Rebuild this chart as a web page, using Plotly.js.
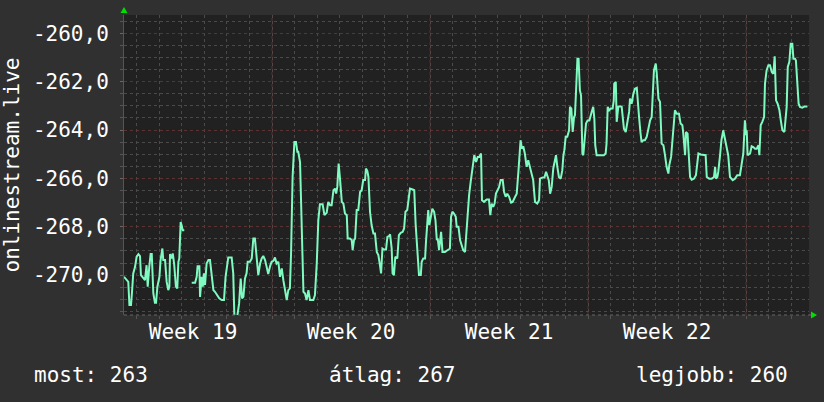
<!DOCTYPE html>
<html>
<head>
<meta charset="utf-8">
<script src="https://cdn.plot.ly/plotly-3.0.1.min.js"></script>
<style>
html,body{margin:0;padding:0;background:#303030;}
#chart{width:824px;height:402px;}
</style>
</head>
<body>
<div id="chart"></div>
<script>
// time in days from the left edge of the chart
const day = [
 0.00,0.15,0.19,0.24,0.31,0.35,0.41,0.49,0.56,0.64,0.71,0.75,0.86,0.93,1.00,1.05,1.12,1.18,1.23,1.30,
 1.37,1.42,1.48,1.57,1.62,1.70,1.74,1.82,1.89,1.96,2.01,2.04,2.11,2.16,2.22,2.26,2.30,2.36,2.41,2.45,
 2.51,2.55,2.60,2.67,2.83,
 3.00,3.15,3.22,3.26,3.34,3.37,3.44,3.49,3.54,3.59,3.66,3.74,3.81,3.88,3.96,4.03,4.11,4.22,4.33,4.43,
 4.50,4.55,4.62,4.77,4.84,4.89,5.02,5.10,5.17,5.23,5.29,5.36,5.43,5.48,5.58,5.66,5.73,5.80,5.88,5.95,
 6.03,6.10,6.17,6.25,6.32,6.39,6.47,6.54,6.62,6.69,6.76,6.84,6.91,6.99,7.06,7.13,7.21,7.28,7.35,7.40,
 7.47,7.55,7.62,7.68,7.72,7.80,7.87,7.95,8.02,8.09,8.17,8.24,8.39,8.46,8.54,8.61,8.68,8.80,8.88,8.98,
 9.05,9.13,9.20,9.28,9.35,9.40,9.45,9.51,9.57,9.65,9.72,9.79,9.87,9.91,10.01,10.09,10.13,10.19,10.24,10.31,
 10.38,10.46,10.53,10.60,10.68,10.72,10.78,10.83,10.90,10.97,11.05,11.12,11.20,11.27,11.34,11.39,11.45,11.52,11.61,11.67,
 11.74,11.79,11.86,11.90,11.96,12.02,12.11,12.18,12.26,12.35,12.41,12.47,12.55,12.60,12.67,12.79,12.86,12.92,12.97,13.01,
 13.07,13.15,13.19,13.26,13.34,13.38,13.44,13.48,13.53,13.59,13.66,13.74,13.80,13.86,13.90,13.96,14.00,14.05,14.11,14.22,
 14.33,14.44,14.49,14.55,14.62,14.70,14.74,14.82,14.89,14.96,15.03,15.11,15.18,15.23,15.29,15.36,15.44,15.52,15.60,15.67,
 15.74,15.82,15.86,15.95,16.07,16.17,16.23,16.29,16.36,16.42,16.48,16.56,16.62,16.69,16.78,16.84,16.91,16.98,17.06,17.15,
 17.22,17.33,17.40,17.48,17.52,17.57,17.63,17.69,17.76,17.84,17.91,17.99,18.06,18.13,18.21,18.31,18.39,18.43,18.55,18.63,
 18.70,18.76,18.82,18.88,18.95,19.02,19.10,19.14,19.20,19.27,19.35,19.42,19.47,19.51,19.57,19.64,19.72,19.76,19.82,19.88,
 19.94,19.98,20.03,20.09,20.14,20.20,20.25,20.31,20.35,20.41,20.47,20.54,20.62,20.72,20.79,20.84,20.88,20.94,21.09,21.26,
 21.34,21.38,21.43,21.50,21.58,21.65,21.70,21.72,21.79,21.83,21.90,21.98,22.05,22.09,22.15,22.23,22.30,22.38,22.42,22.49,
 22.57,22.64,22.72,22.76,22.82,22.88,22.93,23.01,23.08,23.16,23.23,23.31,23.38,23.42,23.48,23.56,23.60,23.68,23.75,23.82,
 23.90,23.97,24.04,24.12,24.16,24.24,24.29,24.34,24.41,24.49,24.59,24.66,24.74,24.78,24.86,24.90,24.97,25.02,25.08,25.15,
 25.25,25.34,25.40,25.45,25.55,25.67,25.77,25.82,25.93,26.04,26.14,26.19,26.23,26.29,26.33,26.41,26.47,26.55,26.63,26.70,
 26.77,26.85,26.97,27.07,27.17,27.29,27.37,27.44,27.51,27.56,27.59,27.63,27.74,27.81,27.88,27.96,28.03,28.11,28.15,28.21,
 28.28,28.36,28.40,28.47,28.55,28.62,28.70,28.77,28.83,28.89,28.96,29.04,29.10,29.17,29.26,29.32,29.36,29.41,29.48,29.54,
 29.61,29.66,29.73,29.77,29.85,29.89,29.95,30.05,30.17,30.28
];
const value = [
 -270.07,-270.28,-270.28,-271.24,-271.24,-270.76,-269.93,-269.66,-269.24,-269.13,-269.21,-270.00,-270.14,-270.21,-269.59,-270.48,-269.66,-269.13,-269.13,-270.76,
 -271.14,-271.14,-270.48,-270.07,-269.38,-268.90,-269.38,-269.38,-270.28,-270.62,-270.48,-269.13,-269.31,-269.10,-269.52,-270.28,-270.48,-270.55,-269.45,-269.31,
 -267.80,-267.93,-268.14,-268.14,null,
 -270.32,-270.32,-270.07,-269.63,-269.63,-270.90,-270.07,-270.48,-269.93,-270.41,-269.52,-269.38,-269.38,-270.07,-270.62,-270.69,-270.79,-270.96,-271.03,-271.03,
 -270.07,-269.66,-269.27,-269.27,-269.93,-271.70,-271.70,-271.17,-270.14,-270.96,-270.90,-270.14,-269.93,-269.45,-269.45,-269.31,-268.49,-268.49,-269.24,-270.00,
 -269.52,-269.31,-269.21,-269.38,-269.66,-269.96,-269.63,-269.45,-269.41,-269.27,-269.52,-269.45,-270.07,-269.72,-270.21,-270.55,-271.03,-270.62,-270.55,-269.17,
 -265.94,-264.49,-264.49,-264.90,-264.90,-265.32,-268.00,-270.69,-270.76,-271.03,-270.62,-271.03,-271.03,-270.83,-269.52,-267.73,-267.07,-267.07,-267.52,-267.42,
 -266.97,-267.11,-267.11,-266.49,-266.42,-266.63,-266.35,-265.39,-266.01,-266.97,-267.04,-267.45,-267.52,-268.49,-268.49,-268.55,-268.97,-268.55,-268.49,-267.31,
 -267.31,-266.56,-266.49,-266.07,-266.07,-265.59,-265.69,-265.94,-267.38,-267.93,-268.28,-268.28,-269.04,-269.17,-269.59,-269.93,-268.90,-268.94,-268.94,-268.42,
 -268.39,-268.31,-268.90,-269.93,-270.00,-269.24,-269.31,-268.35,-268.25,-268.21,-268.07,-267.38,-267.31,-266.83,-266.42,-266.46,-266.49,-267.87,-268.55,-269.45,
 -270.00,-270.00,-269.45,-269.31,-269.31,-268.62,-267.45,-267.31,-267.93,-267.52,-267.25,-267.38,-267.73,-268.55,-268.49,-268.97,-268.55,-268.21,-269.04,-269.04,
 -268.97,-268.90,-267.59,-267.38,-267.45,-267.59,-268.00,-268.00,-268.55,-268.76,-268.97,-269.04,-268.14,-267.25,-266.69,-266.14,-265.45,-265.04,-265.32,-265.11,
 -265.11,-264.97,-266.90,-266.97,-266.87,-266.87,-267.52,-267.04,-267.18,-267.04,-266.63,-266.42,-266.35,-266.07,-266.07,-266.56,-266.76,-266.63,-266.76,-267.00,
 -266.97,-266.76,-266.63,-265.66,-264.83,-264.42,-264.77,-264.67,-264.97,-265.52,-265.25,-265.52,-265.80,-266.07,-266.97,-267.04,-266.90,-266.01,-265.96,-265.96,
 -265.73,-265.94,-266.07,-266.63,-266.35,-265.59,-265.08,-265.04,-265.52,-265.94,-266.01,-265.66,-265.04,-264.83,-264.28,-264.28,-264.01,-263.04,-263.11,-264.08,
 -263.46,-263.39,-262.36,-261.05,-261.05,-262.36,-262.56,-264.97,-265.04,-264.35,-263.73,-263.60,-263.60,-263.25,-263.04,-263.53,-264.63,-265.04,-265.04,-265.04,
 -264.97,-264.56,-263.04,-263.18,-263.11,-263.11,-262.77,-262.08,-262.01,-263.66,-263.04,-263.02,-263.04,-263.46,-263.94,-264.08,-263.60,-263.25,-262.70,-262.91,
 -262.49,-262.29,-262.25,-262.91,-263.46,-264.08,-264.49,-264.42,-264.42,-264.28,-263.94,-263.60,-263.46,-262.36,-261.53,-261.25,-261.60,-262.70,-262.84,-264.56,
 -264.63,-265.04,-265.52,-265.80,-265.45,-265.11,-264.42,-264.15,-263.18,-263.32,-263.32,-263.73,-263.80,-264.15,-265.04,-264.08,-264.15,-264.97,-265.94,-266.05,
 -266.01,-265.87,-265.25,-264.97,-265.01,-265.04,-265.04,-265.94,-266.01,-266.01,-265.94,-265.52,-266.01,-265.94,-265.73,-265.04,-264.42,-264.01,-264.42,-264.70,
 -265.04,-265.94,-266.07,-266.01,-265.87,-265.87,-265.39,-264.97,-263.60,-264.21,-264.01,-265.04,-264.97,-264.67,-264.70,-264.77,-264.77,-264.63,-265.04,-263.80,
 -263.66,-263.46,-262.08,-261.53,-261.32,-261.32,-261.60,-261.67,-260.95,-262.77,-262.91,-263.18,-263.60,-264.01,-264.08,-263.53,-263.04,-261.39,-261.18,-260.43,
 -260.43,-261.05,-261.05,-261.12,-262.22,-262.91,-263.04,-263.07,-263.02,-263.02
];

const yTickVals = [-270, -268, -266, -264, -262, -260];
const yTickText = ['-270,0', '-268,0', '-266,0', '-264,0', '-262,0', '-260,0'];
const weekLabelDays = [3.06, 10.06, 17.06, 24.06];
const weekLabels = ['Week 19', 'Week 20', 'Week 21', 'Week 22'];
const weekStartDays = [6.56, 13.56, 20.56, 27.56];
const statNames = ['most', 'átlag', 'legjobb'];
const statValues = [263, 267, 260];
const seriesName = 'onlinestream.live';

const FONT = 'DejaVu Sans Mono, monospace';
const RED = '#5c3232';
const GRAY = '#4a4a4a';

const trace = {
  x: day, y: value, type: 'scatter', mode: 'lines',
  line: {color: '#7ffac0', width: 2},
  connectgaps: false, hoverinfo: 'skip', showlegend: false
};

const shapes = weekStartDays.map(d => ({
  type: 'line', xref: 'x', yref: 'paper', x0: d, x1: d, y0: 0, y1: 1,
  line: {color: RED, width: 1, dash: 'dot'}, layer: 'below'
}));
// axis arrows
shapes.push({type: 'path', xref: 'paper', yref: 'paper', xsizemode: 'pixel', ysizemode: 'pixel',
  xanchor: 0, yanchor: 1, path: 'M -3.5 2 L 3.5 2 L 0 8 Z', fillcolor: '#00e000', line: {width: 0}});
shapes.push({type: 'path', xref: 'paper', yref: 'paper', xsizemode: 'pixel', ysizemode: 'pixel',
  xanchor: 1, yanchor: 0, path: 'M 2 3.5 L 2 -3.5 L 8 0 Z', fillcolor: '#00e000', line: {width: 0}});
// bottom axis line extension
shapes.push({type: 'line', xref: 'paper', yref: 'paper', x0: 0, x1: 1.003, y0: 0, y1: 0,
  line: {color: '#666666', width: 1, dash: 'dot'}});

const anchors = ['left', 'center', 'right'];
const statX = [-0.134, 0.391, 0.972];
const annotations = statNames.map((n, i) => ({
  xref: 'paper', yref: 'paper', x: statX[i], y: -0.2, xanchor: anchors[i], yanchor: 'middle',
  text: n + ': ' + statValues[i], showarrow: false,
  font: {family: FONT, size: 21, color: '#ffffff'}
}));

const layout = {
  width: 824, height: 402,
  paper_bgcolor: '#303030', plot_bgcolor: '#212121',
  margin: {l: 124, r: 15, t: 15, b: 87},
  font: {family: FONT, size: 21, color: '#ffffff'},
  showlegend: false,
  xaxis: {
    range: [0, 30.35], tickmode: 'array', tickvals: weekLabelDays, ticktext: weekLabels,
    showgrid: false, zeroline: false, ticks: '', showline: false,
    ticklabelstandoff: 2,
    tickfont: {family: FONT, size: 21, color: '#ffffff'},
    minor: {tick0: 0.56, dtick: 1, showgrid: true, gridcolor: GRAY, griddash: 'dot', gridwidth: 1,
            ticks: 'outside', ticklen: 3, tickcolor: '#555555'},
    fixedrange: true
  },
  yaxis: {
    range: [-271.65, -259.24], tickmode: 'array', tickvals: yTickVals, ticktext: yTickText,
    showgrid: true, gridcolor: RED, griddash: 'dot', gridwidth: 1,
    zeroline: false, ticks: 'outside', ticklen: 3, tickcolor: '#666666',
    showline: true, linecolor: '#555555', linewidth: 1,
    ticklabelstandoff: 7,
    tickfont: {family: FONT, size: 21, color: '#ffffff'},
    minor: {tick0: -260, dtick: 0.5, showgrid: true, gridcolor: GRAY, griddash: 'dot', gridwidth: 1,
            ticks: 'outside', ticklen: 3, tickcolor: '#555555'},
    title: {text: seriesName, font: {family: FONT, size: 21, color: '#ffffff'}, standoff: 8},
    fixedrange: true
  },
  shapes: shapes,
  annotations: annotations
};

Plotly.newPlot('chart', [trace], layout, {displayModeBar: false, staticPlot: true});
</script>
</body>
</html>
